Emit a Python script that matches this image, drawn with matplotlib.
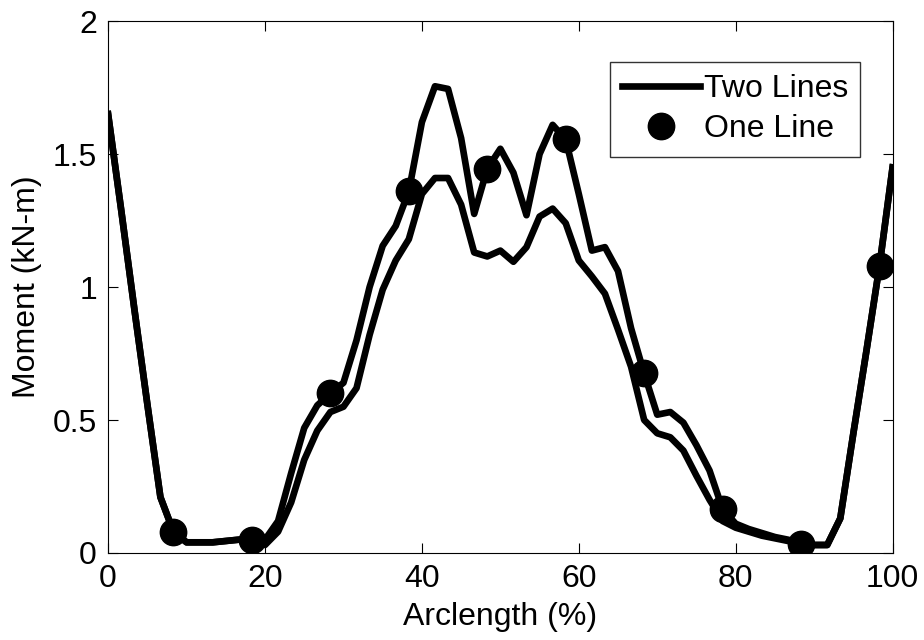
import numpy as np
import matplotlib
matplotlib.use("Agg")
import matplotlib.pyplot as plt

plt.rcParams['font.family'] = ['Liberation Sans', 'DejaVu Sans']

# arclength samples (%), 61 points
arclength = np.linspace(0, 100, 61)

# moment, kN-m
two_lines_upper = [1.65, 1.29, 0.92, 0.56, 0.21, 0.08, 0.04, 0.04, 0.04, 0.045,
                   0.05, 0.05, 0.05, 0.12, 0.30, 0.47, 0.555, 0.60, 0.64, 0.80,
                   1.00, 1.155, 1.23, 1.36, 1.62, 1.755, 1.745, 1.56, 1.275, 1.445,
                   1.52, 1.43, 1.27, 1.50, 1.61, 1.555, 1.35, 1.137, 1.15, 1.06,
                   0.845, 0.675, 0.52, 0.53, 0.49, 0.405, 0.31, 0.165, 0.11, 0.09,
                   0.075, 0.06, 0.05, 0.035, 0.03, 0.03, 0.13, 0.45, 0.76, 1.08,
                   1.45]
two_lines_lower = [1.65, 1.29, 0.92, 0.56, 0.21, 0.08, 0.04, 0.04, 0.04, 0.045,
                   0.05, 0.05, 0.03, 0.08, 0.19, 0.35, 0.46, 0.53, 0.55, 0.62,
                   0.82, 0.99, 1.10, 1.18, 1.35, 1.41, 1.41, 1.31, 1.13, 1.115,
                   1.137, 1.095, 1.15, 1.265, 1.295, 1.24, 1.10, 1.04, 0.975, 0.84,
                   0.70, 0.50, 0.45, 0.435, 0.385, 0.29, 0.20, 0.12, 0.095, 0.08,
                   0.065, 0.055, 0.045, 0.035, 0.03, 0.03, 0.13, 0.45, 0.76, 1.08,
                   1.45]

# one line case, every 6th sample starting at 8.3 %
one_line_x = arclength[5::6]
one_line_y = np.array(two_lines_upper)[5::6]

xticks = [0, 20, 40, 60, 80, 100]
yticks = [0, 0.5, 1, 1.5, 2]
ytick_labels = ["0", "0.5", "1", "1.5", "2"]

fig = plt.figure(figsize=(9.24, 6.4), dpi=100)
ax = fig.add_axes([0.117, 0.136, 0.849, 0.831])

ax.plot(arclength, two_lines_upper, color="black", lw=4.8, label="Two Lines")
ax.plot(arclength, two_lines_lower, color="black", lw=4.8)
ax.plot(one_line_x, one_line_y, "o", color="black", markersize=19, label="One Line")

ax.set_xlim(0, 100)
ax.set_ylim(0, 2)
ax.set_xticks(xticks)
ax.set_yticks(yticks)
ax.set_yticklabels(ytick_labels)
ax.tick_params(direction="in", top=True, right=True, length=7, labelsize=23, pad=8)
ax.set_xlabel("Arclength (%)", fontsize=23, labelpad=6)
ax.set_ylabel("Moment (kN-m)", fontsize=23, labelpad=8)

leg = ax.legend(loc="upper right", bbox_to_anchor=(860 / 924, 1 - 62 / 640),
                bbox_transform=fig.transFigure, borderaxespad=0,
                fontsize=23, frameon=True, fancybox=False, edgecolor="black",
                handlelength=2.45, handletextpad=0.1, labelspacing=0.32,
                borderpad=0.38)
leg.get_frame().set_linewidth(1.0)

fig.savefig("out.png", dpi=100)
